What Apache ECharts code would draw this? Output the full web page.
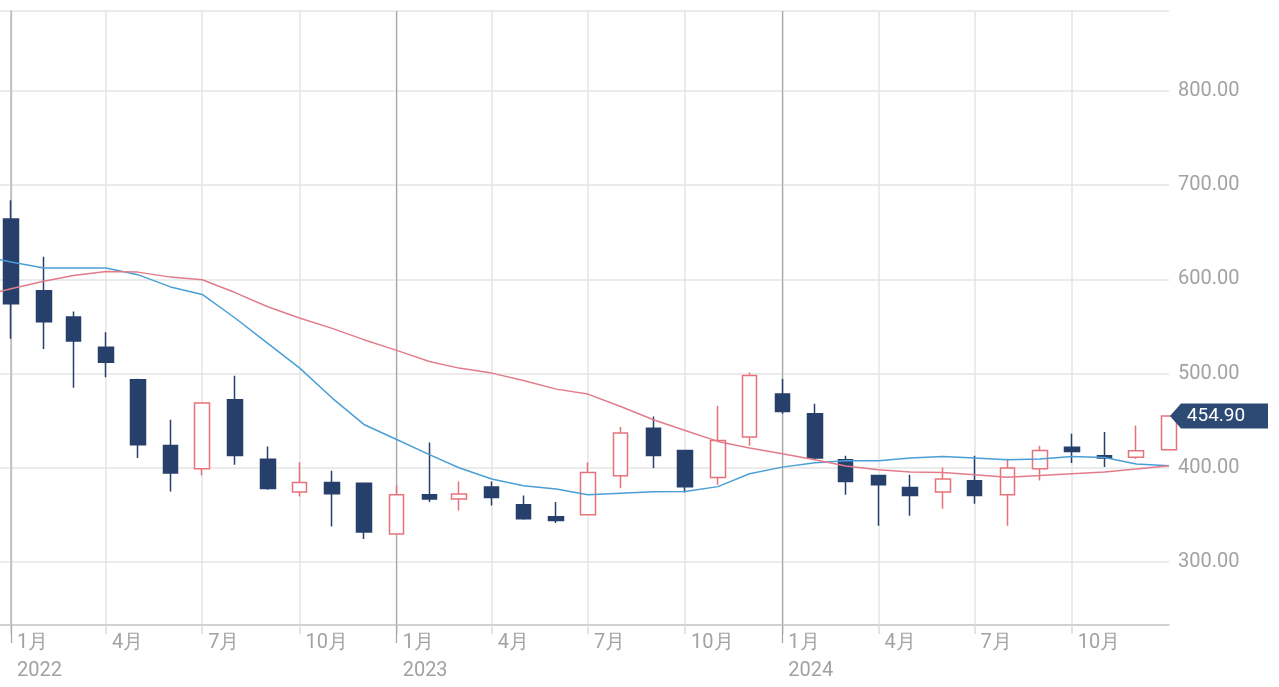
<!DOCTYPE html>
<html>
<head>
<meta charset="utf-8">
<script src="https://cdn.jsdelivr.net/npm/echarts@6/dist/echarts.min.js"></script>
<style>
html,body{margin:0;padding:0;background:#fff;}
#chart{width:1279px;height:687px;}
</style>
</head>
<body>
<div id="chart"></div>
<script>
// Monthly candles (Jan 2022 .. Jan 2025)
const months = ['2022-01','2022-02','2022-03','2022-04','2022-05','2022-06','2022-07','2022-08','2022-09','2022-10','2022-11','2022-12',
  '2023-01','2023-02','2023-03','2023-04','2023-05','2023-06','2023-07','2023-08','2023-09','2023-10','2023-11','2023-12',
  '2024-01','2024-02','2024-03','2024-04','2024-05','2024-06','2024-07','2024-08','2024-09','2024-10','2024-11','2024-12',
  '2025-01'];
const opens  = [664, 588, 560, 528, 493.4, 423.7, 398.9, 472.2, 409, 374.2, 384.4, 383.5,
  329.6, 371.3, 366.8, 379.5, 360.7, 348, 350.1, 391.5, 442, 418.4, 389.7, 432.6,
  478.2, 457.3, 408.5, 391.9, 379.1, 374.2, 386.2, 371.3, 398.9, 421.9, 412.7, 411.3,
  419.1];
const closes = [574, 555, 534.5, 512, 424.4, 394.4, 468.7, 413, 378, 384.4, 372.4, 331.7,
  371.3, 366.8, 372.1, 368.5, 345.9, 344, 395, 436.8, 413, 379.8, 429, 498,
  459.8, 410.3, 385.5, 382, 370.6, 388, 370.6, 399.7, 418.4, 417.3, 410.3, 418,
  454.9];
const lows   = [537, 526, 485, 496, 410.3, 374.8, 391.8, 403.2, 376.6, 369.5, 337.7, 324.3,
  329, 363.6, 354.7, 360, 344.8, 341.3, 349.5, 378.4, 399.7, 373.8, 382, 423.4,
  457.3, 408.5, 371.3, 338.4, 349, 356.5, 361.8, 338.4, 386.5, 405, 400.7, 409.6,
  419.1];
const highs  = [684, 624, 566, 544, 494.5, 451, 469, 497.7, 422.6, 406, 396.8, 384,
  381.2, 426.9, 385.5, 385.5, 370.6, 363.6, 405.6, 443.2, 454.5, 418.8, 465.8, 501.2,
  494.2, 467.9, 412.7, 392.3, 392.6, 400.3, 412.7, 409.6, 423.4, 436.1, 437.9, 444.9,
  454.9];

// Moving averages (Dec 2021 .. Jan 2025)
const maMonths = ['2021-12'].concat(months);
const maShort = [625.5, 618.5, 612, 612, 612, 605, 592, 584, 559, 532, 506, 474, 446,
  430, 414, 400, 388, 381, 377.4, 371.3, 373, 374.5, 374.8, 380, 393.6,
  400.7, 405.3, 407.4, 407.4, 410.3, 412, 410.3, 408.5, 409.2, 412, 410.9, 403.9,
  402.1];
const maLong = [581.5, 590, 598, 604, 608.4, 607.7, 602.4, 599.6, 586, 571, 559, 548, 536,
  524.6, 512.8, 505.8, 500.5, 492.7, 483.5, 478.2, 465, 451, 439.6, 428, 421,
  415, 408.5, 402, 398, 395.4, 395, 392.6, 390, 391.8, 393.6, 395.4, 398.6,
  402.1];

// Axis ticks and labels
const quarterTicks = ['2022-01','2022-04','2022-07','2022-10','2023-01','2023-04','2023-07','2023-10',
  '2024-01','2024-04','2024-07','2024-10'];
const quarterLabels = ['1月\n2022','4月','7月','10月','1月\n2023','4月','7月','10月','1月\n2024','4月','7月','10月'];
const yearTicks = ['2022-01','2023-01','2024-01'];
const axisStart = '2022-01';
const axisEnd = '2025-01';

// x value = days since axisStart
function dayOf(m) {
  const p = m.split('-');
  return Math.round((Date.UTC(+p[0], +p[1] - 1, 1) - Date.UTC(2022, 0, 1)) / 86400000);
}
const xMin = dayOf(axisStart) - 10.42;
const xMax = dayOf(axisEnd);
const labelByDay = {};
quarterTicks.forEach((m, i) => { labelByDay[dayOf(m)] = quarterLabels[i]; });

const candleData = months.map((m, i) => [dayOf(m), opens[i], closes[i], lows[i], highs[i]]);
const last = months.length - 1;

const chart = echarts.init(document.getElementById('chart'), null, {renderer: 'canvas'});
const option = {
  animation: false,
  backgroundColor: '#ffffff',
  textStyle: {fontFamily: 'Roboto'},
  grid: {left: 0, right: 110, top: 11, bottom: 62},
  xAxis: [
    {
      type: 'value', min: xMin, max: xMax, position: 'bottom',
      axisLine: {show: true, onZero: false, lineStyle: {color: '#c8c8c8', width: 1.5}},
      axisTick: {show: true, length: 9, customValues: quarterTicks.map(dayOf), lineStyle: {color: '#dcdcdc', width: 1.5}},
      axisLabel: {
        show: true, customValues: quarterTicks.map(dayOf), align: 'left', padding: [0, 0, 0, 6],
        color: '#a2a2a2', fontSize: 20, lineHeight: 28, margin: 4, fontFamily: 'Roboto',
        formatter: function (v) { return labelByDay[Math.round(v)] || ''; }
      },
      splitLine: {show: true, lineStyle: {color: '#e4e4e4', width: 1.5}}
    },
    {
      type: 'value', min: xMin, max: xMax, position: 'bottom',
      axisLine: {show: false, onZero: false},
      axisTick: {show: true, length: 18, customValues: yearTicks.map(dayOf), lineStyle: {color: '#a6a6a6', width: 1.2}},
      axisLabel: {show: false},
      splitLine: {show: true, lineStyle: {color: '#a6a6a6', width: 1.2}}
    }
  ],
  yAxis: {
    type: 'value', position: 'right', min: 233.1, max: 884.9,
    axisLine: {show: true, lineStyle: {color: '#c4c4c4', width: 1.5}},
    axisTick: {show: false},
    axisLabel: {
      color: '#a2a2a2', fontSize: 20, margin: 9, fontFamily: 'Roboto',
      formatter: function (v) { return Math.abs(v % 100) < 1e-6 ? v.toFixed(2) : ''; }
    },
    splitLine: {show: true, lineStyle: {color: '#e4e4e4', width: 1.5}}
  },
  series: [
    {
      type: 'candlestick', xAxisIndex: 0,
      dimensions: ['day', 'open', 'close', 'low', 'high'],
      encode: {x: 0, y: [1, 2, 3, 4]},
      data: candleData,
      barWidth: 15,
      itemStyle: {color: '#ffffff', color0: '#27406b', borderColor: '#e8727b', borderColor0: '#27406b', borderWidth: 1.5},
      markPoint: {
        symbol: 'path://M0,12 L11,0 L98,0 L98,24 L11,24 Z',
        symbolSize: [98, 25], symbolKeepAspect: false, symbolOffset: [50, 0],
        itemStyle: {color: '#2c4a73'},
        label: {show: true, position: 'inside', color: '#ffffff', fontSize: 19, fontFamily: 'Roboto', offset: [-3, 0],
          formatter: function (p) { return Number(p.value).toFixed(2); }},
        data: [{coord: [dayOf(months[last]), closes[last]], value: closes[last]}]
      }
    },
    {
      type: 'line', xAxisIndex: 0, symbol: 'none',
      data: maMonths.map((m, i) => [dayOf(m), maShort[i]]),
      lineStyle: {color: '#4a9fd6', width: 1.5}
    },
    {
      type: 'line', xAxisIndex: 0, symbol: 'none',
      data: maMonths.map((m, i) => [dayOf(m), maLong[i]]),
      lineStyle: {color: '#e27c8b', width: 1.5}
    }
  ]
};
chart.setOption(option);
</script>
</body>
</html>
